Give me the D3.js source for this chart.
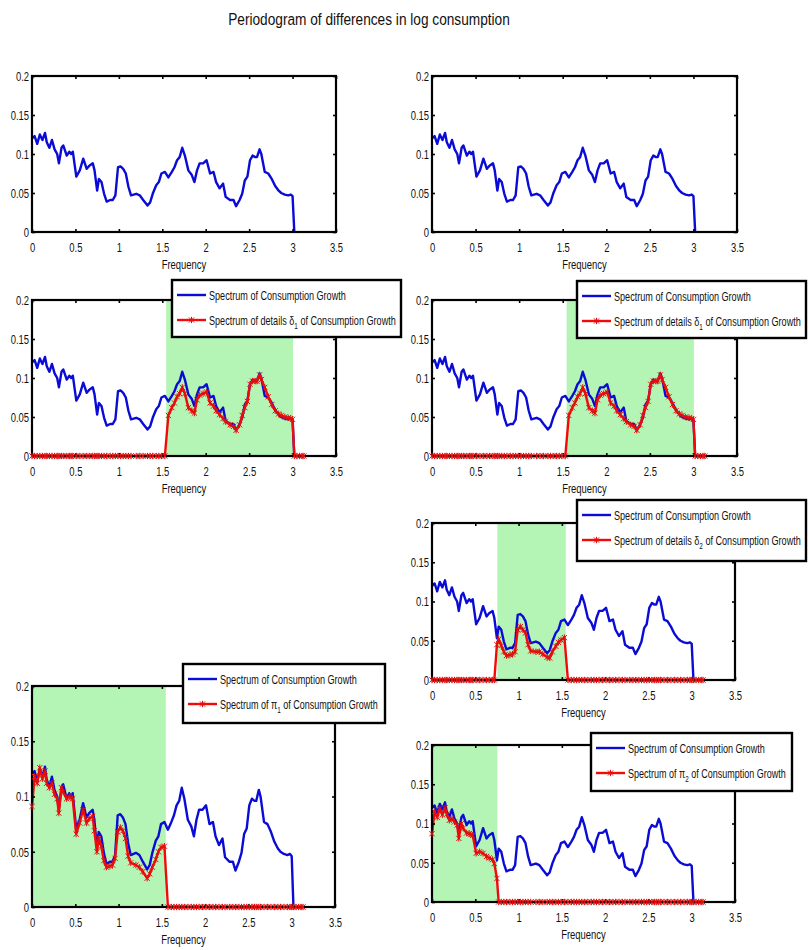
<!DOCTYPE html>
<html><head><meta charset="utf-8">
<script src="https://cdn.jsdelivr.net/npm/d3@7"></script>
<style>body{margin:0;background:#fff} text{font-family:"Liberation Sans",Arial,sans-serif}</style>
</head><body><svg id="c" width="809" height="950"></svg>
<script>
// ---------- data ----------
const title = "Periodogram of differences in log consumption";
const xLabel = "Frequency";
const freq = [0,0.03,0.06,0.09,0.12,0.15,0.17,0.20,0.23,0.26,0.29,0.31,0.34,0.36,0.40,0.43,0.45,0.47,0.51,0.55,
  0.59,0.63,0.66,0.70,0.72,0.75,0.77,0.80,0.83,0.86,0.90,0.93,0.96,0.99,1.02,1.05,1.08,1.11,1.14,1.20,
  1.24,1.28,1.33,1.36,1.39,1.43,1.46,1.49,1.53,1.57,1.61,1.64,1.67,1.70,1.73,1.76,1.80,1.84,1.87,1.90,
  1.93,1.97,2.01,2.05,2.09,2.12,2.16,2.20,2.23,2.28,2.32,2.35,2.39,2.42,2.45,2.48,2.51,2.54,2.57,2.59,
  2.62,2.64,2.68,2.72,2.76,2.80,2.84,2.87,2.91,2.95,2.98,3.00,3.02];
const spectrum = [0.120,0.123,0.113,0.125,0.118,0.127,0.115,0.108,0.118,0.106,0.100,0.088,0.108,0.111,0.098,0.103,0.100,0.103,0.071,0.079,
  0.094,0.081,0.085,0.088,0.079,0.053,0.068,0.064,0.049,0.039,0.041,0.041,0.047,0.083,0.084,0.081,0.075,0.058,0.047,0.049,
  0.047,0.041,0.034,0.038,0.049,0.060,0.064,0.075,0.077,0.070,0.077,0.083,0.092,0.096,0.108,0.098,0.079,0.073,0.064,0.079,
  0.088,0.088,0.092,0.075,0.077,0.064,0.056,0.062,0.045,0.041,0.041,0.033,0.041,0.049,0.066,0.071,0.092,0.098,0.096,0.096,
  0.106,0.100,0.077,0.075,0.068,0.059,0.053,0.050,0.048,0.047,0.048,0.046,0.000];
const tailFreq = [3.05,3.08,3.11,3.13];

const delta1Freq = [1.57,1.61,1.64,1.67,1.70,1.73,1.76,1.80,1.84,1.87,1.90,1.93,1.97,2.01,2.05,2.09,2.12,2.16,2.20,2.23,
  2.28,2.32,2.35,2.39,2.42,2.45,2.48,2.51,2.54,2.57,2.59,2.62,2.64,2.68,2.72,2.76,2.80,2.84,2.87,2.91,2.95,2.98,3.00];
const delta1Vals = [0.052,0.062,0.068,0.076,0.080,0.088,0.080,0.062,0.058,0.055,0.072,0.078,0.080,0.082,0.068,0.064,0.058,0.053,0.048,0.044,
  0.040,0.038,0.033,0.040,0.052,0.062,0.070,0.092,0.096,0.096,0.096,0.104,0.098,0.088,0.076,0.066,0.058,0.054,0.052,0.050,0.049,0.048,0.047];

const delta2Freq = [0.75,0.77,0.80,0.83,0.86,0.90,0.93,0.96,0.99,1.02,1.05,1.08,1.11,1.14,1.20,1.24,1.28,1.33,1.36,1.39,1.43,1.46,1.49,1.53];
const delta2Vals = [0.045,0.052,0.044,0.036,0.031,0.032,0.033,0.036,0.064,0.068,0.064,0.060,0.045,0.037,0.036,0.036,0.033,0.029,0.028,0.036,0.043,0.048,0.051,0.054];

const pi1Freq = [0,0.03,0.06,0.09,0.12,0.15,0.17,0.20,0.23,0.26,0.29,0.31,0.34,0.36,0.40,0.43,0.45,0.47,0.51,0.55,
  0.59,0.63,0.66,0.70,0.72,0.75,0.77,0.80,0.83,0.86,0.90,0.93,0.96,0.99,1.02,1.05,1.08,1.11,1.14,1.20,
  1.24,1.28,1.33,1.36,1.39,1.43,1.46,1.49,1.53];
const pi1Vals = [0.091,0.118,0.112,0.126,0.116,0.123,0.112,0.108,0.112,0.102,0.098,0.085,0.108,0.104,0.098,0.100,0.099,0.098,0.066,0.076,
  0.088,0.076,0.080,0.082,0.069,0.050,0.062,0.055,0.042,0.036,0.037,0.038,0.044,0.068,0.072,0.069,0.062,0.046,0.040,0.038,
  0.036,0.032,0.026,0.030,0.036,0.043,0.050,0.054,0.055];

const pi2Freq = [0,0.03,0.06,0.09,0.12,0.15,0.17,0.20,0.23,0.26,0.29,0.31,0.34,0.36,0.40,0.43,0.45,0.47,0.51,0.55,0.59,0.63,0.66,0.70,0.72,0.75];
const pi2Vals = [0.087,0.115,0.108,0.119,0.111,0.120,0.112,0.104,0.106,0.102,0.098,0.081,0.100,0.094,0.088,0.087,0.086,0.085,0.062,0.064,0.062,0.058,0.056,0.054,0.049,0.030];

const delta1Band = [1.545, 3.005];
const delta2Band = [0.755, 1.545];
const pi1Band = [0, 1.545];
const pi2Band = [0, 0.755];

const xTicks = [0,0.5,1,1.5,2,2.5,3,3.5];
const xTickLabels = ["0","0.5","1","1.5","2","2.5","3","3.5"];
const yTicks = [0,0.05,0.1,0.15,0.2];
const yTickLabels = ["0","0.05","0.1","0.15","0.2"];

const legendBlue = ["Spectrum of Consumption Growth"];
const legendDelta1 = ["Spectrum of details δ","1"," of Consumption Growth"];
const legendDelta2 = ["Spectrum of details δ","2"," of Consumption Growth"];
const legendPi1 = ["Spectrum of π","1"," of Consumption Growth"];
const legendPi2 = ["Spectrum of π","2"," of Consumption Growth"];

// ---------- drawing ----------
const svg = d3.select("#c");
const SX = 0.7;
const BLUE = "#0b0bd6", RED = "#f20a0a", GREEN = "#b4f4b4";

function fitText(sel, parts, size, tx, ty, target) {
  const t = sel.append("text").attr("x", 0).attr("y", 0).attr("font-size", size).attr("fill", "#111");
  t.append("tspan").text(parts[0]);
  if (parts.length > 1) {
    t.append("tspan").attr("font-size", size * 0.7).attr("dy", 4).text(parts[1]);
    t.append("tspan").attr("dy", -4).text(parts[2]);
  }
  const w = t.node().getComputedTextLength();
  t.attr("transform", `translate(${tx},${ty}) scale(${target / w},1)`);
  return t;
}

const tg = svg.append("g");
const tt = tg.append("text").attr("x", 0).attr("y", 0).attr("text-anchor", "middle")
  .attr("font-size", 15.5).attr("fill", "#111").text(title);
const tw = tt.node().getComputedTextLength();
tt.attr("transform", `translate(369,25) scale(${282 / tw},1.05)`);

const fullFreq = freq.concat(tailFreq);
function redSeries(fs, vs) {
  const m = new Map(fs.map((f, i) => [f.toFixed(2), vs[i]]));
  return fullFreq.map(f => [f, m.has(f.toFixed(2)) ? m.get(f.toFixed(2)) : 0]);
}
const blueSeries = freq.map((f, i) => [f, spectrum[i]]);

const panels = [
  {x:32, y:76, w:304, h:156},
  {x:432, y:76, w:305, h:156},
  {x:32, y:300, w:304, h:156, red: redSeries(delta1Freq, delta1Vals), band: delta1Band,
    leg: {x:172, y:280, w:229, h:57, lab: legendDelta1, len: 187}},
  {x:432, y:300, w:305, h:156, red: redSeries(delta1Freq, delta1Vals), band: delta1Band,
    leg: {x:577, y:281, w:229, h:57, lab: legendDelta1, len: 187}},
  {x:432, y:523, w:303, h:157, red: redSeries(delta2Freq, delta2Vals), band: delta2Band,
    leg: {x:577, y:500, w:229, h:61, lab: legendDelta2, len: 187}},
  {x:32, y:686, w:303, h:221, red: redSeries(pi1Freq, pi1Vals), band: pi1Band,
    leg: {x:183, y:664, w:202, h:59, lab: legendPi1, len: 158}},
  {x:432, y:745, w:303, h:157, red: redSeries(pi2Freq, pi2Vals), band: pi2Band,
    leg: {x:591, y:733, w:201, h:58, lab: legendPi2, len: 158}}
];

const starPath = "M-2.6,-2.6L2.6,2.6M-2.6,2.6L2.6,-2.6M0,-3.2L0,3.2";

panels.forEach(p => {
  const g = svg.append("g").attr("transform", `translate(${p.x},${p.y})`);
  const x = d3.scaleLinear().domain([0, 3.5]).range([0, p.w]);
  const y = d3.scaleLinear().domain([0, 0.2]).range([p.h, 0]);
  const line = d3.line().x(d => x(d[0])).y(d => y(d[1]));

  if (p.band) {
    g.append("rect").attr("x", x(p.band[0])).attr("y", 0)
      .attr("width", x(p.band[1]) - x(p.band[0])).attr("height", p.h).attr("fill", GREEN);
  }
  g.append("path").datum(blueSeries).attr("d", line).attr("fill", "none")
    .attr("stroke", BLUE).attr("stroke-width", 2.4).attr("stroke-linejoin", "round");
  if (p.red) {
    g.append("path").datum(p.red).attr("d", line).attr("fill", "none")
      .attr("stroke", RED).attr("stroke-width", 2.4).attr("stroke-linejoin", "round");
  }

  const ax = g.append("g").attr("transform", `translate(0,${p.h})`)
    .call(d3.axisBottom(x).tickValues(xTicks).tickSize(-3).tickPadding(10)
      .tickFormat((d, i) => xTickLabels[i]));
  const axT = g.append("g").call(d3.axisTop(x).tickValues(xTicks).tickSize(-3).tickFormat(""));
  const ay = g.append("g").call(d3.axisLeft(y).tickValues(yTicks).tickSize(-3).tickPadding(3)
      .tickFormat((d, i) => yTickLabels[i]));
  const ayR = g.append("g").attr("transform", `translate(${p.w},0)`)
    .call(d3.axisRight(y).tickValues(yTicks).tickSize(-3).tickFormat(""));
  [ax, axT, ay, ayR].forEach(a => {
    a.select(".domain").remove();
    a.selectAll("line").attr("stroke", "#000").attr("stroke-width", 1.6);
    a.selectAll("text").attr("font-size", 13.5).attr("fill", "#111")
      .attr("font-family", "Liberation Sans, Arial, sans-serif")
      .attr("transform", `scale(${SX},1)`);
  });
  ay.selectAll("text").attr("x", -3 / SX);

  g.append("rect").attr("x", 0).attr("y", 0).attr("width", p.w).attr("height", p.h)
    .attr("fill", "none").attr("stroke", "#000").attr("stroke-width", 2.2);

  if (p.red) {
    g.selectAll("path.mk").data(p.red).enter().append("path").attr("class", "mk")
      .attr("transform", d => `translate(${x(d[0])},${y(d[1])})`)
      .attr("d", starPath).attr("stroke", "#e01010").attr("stroke-width", 1).attr("fill", "none");
  }

  g.append("text").attr("x", 0).attr("y", 0)
    .attr("transform", `translate(${p.w / 2},${p.h + 37}) scale(${SX},1)`)
    .attr("text-anchor", "middle").attr("font-size", 13.5).attr("fill", "#111").text(xLabel);

  if (p.leg) {
    const L = p.leg;
    const lg = svg.append("g").attr("transform", `translate(${L.x},${L.y})`);
    lg.append("rect").attr("x", 0).attr("y", 0).attr("width", L.w).attr("height", L.h)
      .attr("fill", "#fff").attr("stroke", "#000").attr("stroke-width", 2.4);
    const y1 = 15, y2 = 40;
    lg.append("line").attr("x1", 5).attr("x2", 34).attr("y1", y1).attr("y2", y1)
      .attr("stroke", BLUE).attr("stroke-width", 2.4);
    lg.append("line").attr("x1", 5).attr("x2", 34).attr("y1", y2).attr("y2", y2)
      .attr("stroke", RED).attr("stroke-width", 2.4);
    lg.append("path").attr("transform", `translate(19.5,${y2})`).attr("d", starPath)
      .attr("stroke", "#e01010").attr("stroke-width", 1).attr("fill", "none");
    fitText(lg, legendBlue, 13, 37, y1 + 5, 137);
    fitText(lg, L.lab, 13, 37, y2 + 5, L.len);
  }
});
</script></body></html>
